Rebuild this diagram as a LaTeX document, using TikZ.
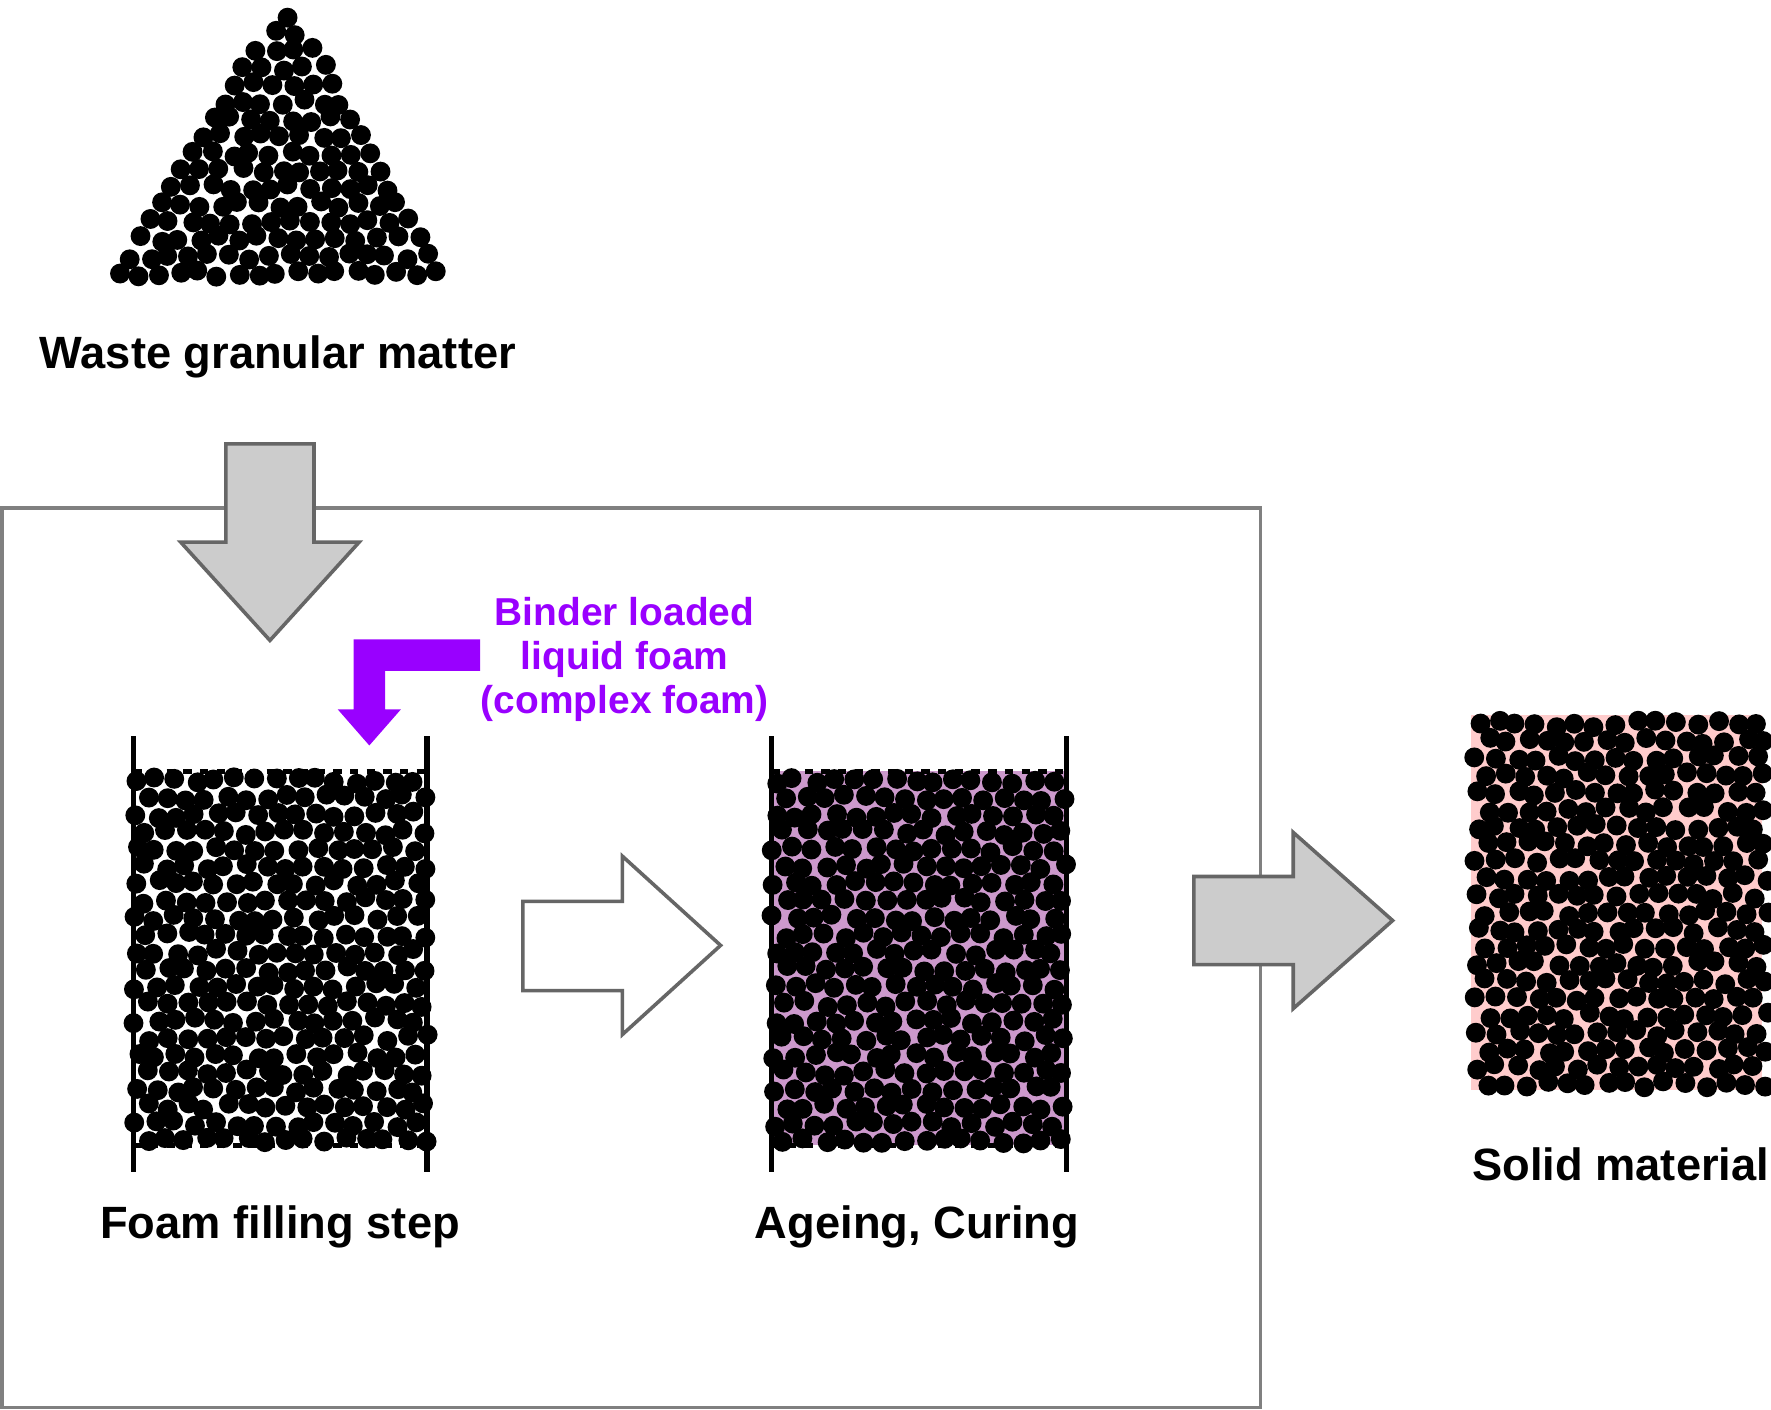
\documentclass[tikz,border=0pt]{standalone}
\usepackage{fontspec}
\setmainfont{Liberation Sans}
\usepackage{xcolor}

\definecolor{binder}{RGB}{153,0,255}
\definecolor{cured}{RGB}{204,153,204}
\definecolor{solidpink}{RGB}{255,204,204}
\definecolor{arrowgray}{RGB}{204,204,204}
\definecolor{edgegray}{RGB}{102,102,102}
\definecolor{framegray}{RGB}{128,128,128}

% grains on a shaken hex grid: left, top, last column, last row
\newcommand\grainbox[4]{%
  \foreach \r in {0,...,#4}
    \foreach \c in {0,...,#3}
      \fill[grain] ({#1+\c*17.6+mod(\r,2)*8.8+3*rand},{#2+\r*15.2+3*rand}) circle[radius=0.88mm];}

\begin{document}
\begin{tikzpicture}[x=0.1mm,y=-0.1mm,
                    grain/.style={fill=black},
                    wall/.style={line width=1.3pt},
                    level line/.style={line width=1.2pt,dash pattern=on 2.1pt off 2.1pt},
                    block arrow/.style={draw=edgegray,line width=0.9pt,fill=arrowgray},
                    step label/.style={font=\fontsize{11.4}{13.7}\selectfont\bfseries}]
  \pgfmathsetseed{42}
  \useasboundingbox (0,0) rectangle (1568,1248);

  % frame round the two steps
  \draw[framegray,line width=0.9pt] (2,450) rectangle (1116,1246);

  % heap of waste grains
  \foreach \k in {0,...,15}{
    \pgfmathsetmacro\yk{242-15.2*\k}
    \pgfmathsetmacro\xl{104+9.3*\k}
    \pgfmathsetmacro\xr{388-8.5*\k}
    \pgfmathtruncatemacro\ncount{(\xr-\xl)/17.5}
    \pgfmathsetmacro\gap{((\xr-\xl)-\ncount*17.5)/2}
    \foreach \j in {0,...,\ncount}
      \fill[grain] ({\xl+\gap+\j*17.5+3*rand},{\yk+3*rand}) circle[radius=0.88mm];
  }
  \node[step label] (waste) at (246,316) {Waste granular matter};

  % arrows in
  \draw[block arrow] (200,393) -- (278,393) -- (278,480) -- (318,480) -- (239,567)
    -- (160,480) -- (200,480) -- cycle;
  \fill[binder] (425,566) -- (313,566) -- (313,628) -- (299,628) -- (327,660)
    -- (355,628) -- (341,628) -- (341,594) -- (425,594) -- cycle;
  \node[font=\fontsize{9.8}{11.1}\selectfont\bfseries,text=binder,align=center]
    (binder) at (553,584) {Binder loaded\\liquid foam\\(complex foam)};

  % foam filling step
  \draw[level line] (118,683) -- (378,683);
  \draw[level line] (118,1014) -- (378,1014);
  \grainbox{121}{691}{14}{21}
  \draw[wall] (118,652) -- (118,1038);
  \draw[wall] (378,652) -- (378,1038);
  \node[step label] (filling) at (248,1086) {Foam filling step};

  \draw[block arrow,fill=white] (463,798) -- (551,798) -- (551,758) -- (638,837)
    -- (551,916) -- (551,877) -- (463,877) -- cycle;

  % ageing, curing
  \fill[cured] (683,683) rectangle (944,1014);
  \draw[level line] (683,683) -- (944,683);
  \draw[level line] (683,1014) -- (944,1014);
  \grainbox{686}{691}{14}{21}
  \draw[wall] (683,652) -- (683,1038);
  \draw[wall] (944,652) -- (944,1038);
  \node[step label] (curing) at (812,1086) {Ageing, Curing};

  \draw[block arrow] (1057,776) -- (1145,776) -- (1145,737) -- (1233,815)
    -- (1145,893) -- (1145,854) -- (1057,854) -- cycle;

  % solid material
  \fill[solidpink] (1302,633) rectangle (1560,965);
  \grainbox{1308}{641}{14}{21}
  \node[step label] (solid) at (1435,1031) {Solid material};
\end{tikzpicture}
\end{document}
